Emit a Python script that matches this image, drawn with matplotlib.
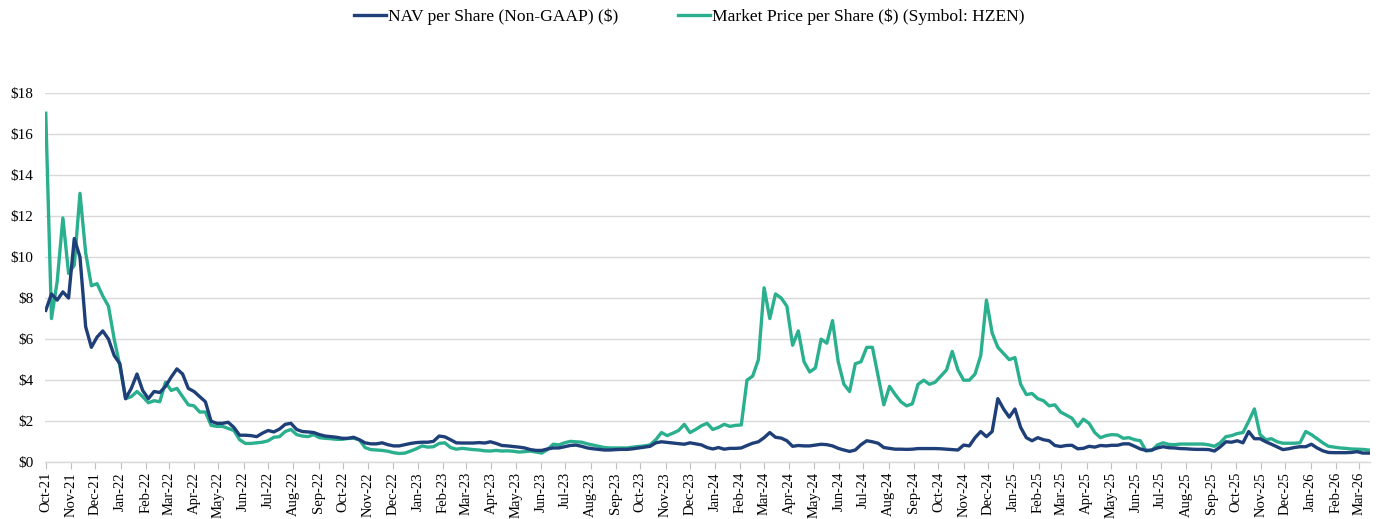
import matplotlib
matplotlib.use("Agg")
import matplotlib.pyplot as plt
import matplotlib.dates as mdates
import pandas as pd
import numpy as np

# Weekly observation dates (Oct 1, 2021 onward)
start_date = "2021-10-01"
n_points = 233

nav_per_share = [
    7.4, 8.2, 7.9, 8.3, 8.0, 10.9, 10.0, 6.6, 5.6, 6.1,
    6.4, 6.0, 5.2, 4.8, 3.1, 3.6, 4.3, 3.5, 3.1, 3.45,
    3.4, 3.7, 4.15, 4.55, 4.3, 3.6, 3.45, 3.2, 2.95, 2.0,
    1.9, 1.9, 1.95, 1.7, 1.32, 1.32, 1.3, 1.25, 1.42, 1.55,
    1.48, 1.62, 1.85, 1.9, 1.6, 1.5, 1.48, 1.45, 1.35, 1.28,
    1.25, 1.22, 1.17, 1.17, 1.22, 1.1, 0.95, 0.9, 0.9, 0.95,
    0.86, 0.8, 0.8, 0.86, 0.92, 0.96, 0.98, 0.98, 1.02, 1.28,
    1.24, 1.1, 0.95, 0.94, 0.94, 0.94, 0.96, 0.94, 1.0, 0.92,
    0.82, 0.8, 0.77, 0.74, 0.7, 0.62, 0.58, 0.58, 0.65, 0.7,
    0.7, 0.76, 0.82, 0.84, 0.78, 0.7, 0.66, 0.63, 0.6, 0.6,
    0.62, 0.63, 0.63, 0.66, 0.7, 0.74, 0.78, 0.95, 1.0, 0.97,
    0.94, 0.91, 0.88, 0.95, 0.9, 0.85, 0.72, 0.65, 0.72, 0.64,
    0.68, 0.68, 0.7, 0.82, 0.93, 1.0, 1.2, 1.45, 1.22, 1.18,
    1.05, 0.78, 0.82, 0.8, 0.8, 0.84, 0.88, 0.86, 0.8, 0.68,
    0.6, 0.53, 0.6, 0.86, 1.05, 1.0, 0.93, 0.72, 0.68, 0.64,
    0.64, 0.63, 0.64, 0.67, 0.67, 0.67, 0.67, 0.66, 0.64, 0.62,
    0.6, 0.84, 0.8, 1.2, 1.5, 1.25, 1.5, 3.1, 2.6, 2.2,
    2.6, 1.7, 1.2, 1.05, 1.2, 1.1, 1.05, 0.82, 0.77, 0.82,
    0.83, 0.66, 0.68, 0.78, 0.74, 0.82, 0.8, 0.83, 0.83, 0.9,
    0.9, 0.78, 0.65, 0.58, 0.6, 0.7, 0.76, 0.71, 0.7, 0.67,
    0.66, 0.64, 0.63, 0.63, 0.62, 0.55, 0.75, 1.0, 0.98, 1.05,
    0.95, 1.5, 1.15, 1.15, 1.0, 0.88, 0.75, 0.62, 0.66, 0.72,
    0.76, 0.76, 0.88, 0.7, 0.56, 0.48, 0.47, 0.47, 0.47, 0.48,
    0.52, 0.45, 0.45,
]

market_price = [
    17.0, 7.0, 8.8, 11.9, 9.2, 9.6, 13.1, 10.2, 8.6, 8.7,
    8.1, 7.6, 6.0, 4.7, 3.1, 3.2, 3.45, 3.2, 2.9, 3.0,
    2.95, 3.9, 3.5, 3.6, 3.2, 2.8, 2.75, 2.45, 2.45, 1.8,
    1.75, 1.75, 1.65, 1.55, 1.1, 0.92, 0.92, 0.95, 0.98, 1.05,
    1.22, 1.25, 1.5, 1.6, 1.35, 1.28, 1.25, 1.35, 1.2, 1.17,
    1.15, 1.12, 1.12, 1.16, 1.17, 1.1, 0.72, 0.62, 0.6, 0.58,
    0.54, 0.47, 0.43, 0.45, 0.55, 0.66, 0.8, 0.74, 0.76, 0.92,
    0.95, 0.72, 0.64, 0.68, 0.65, 0.62, 0.6, 0.56, 0.55, 0.58,
    0.55, 0.56, 0.54, 0.5, 0.52, 0.55, 0.5, 0.45, 0.62, 0.88,
    0.85, 0.95, 1.02, 1.0, 0.98, 0.9, 0.84, 0.78, 0.72, 0.7,
    0.7, 0.7, 0.7, 0.74, 0.77, 0.8, 0.85, 1.1, 1.45, 1.3,
    1.42, 1.55, 1.85, 1.45, 1.6, 1.78, 1.9, 1.6, 1.7, 1.85,
    1.75, 1.8, 1.82, 4.0, 4.2, 5.0, 8.5, 7.0, 8.2, 8.0,
    7.6, 5.7, 6.4, 4.9, 4.4, 4.6, 6.0, 5.8, 6.9, 4.9,
    3.8, 3.45, 4.8, 4.9, 5.6, 5.6, 4.2, 2.8, 3.7, 3.3,
    2.95, 2.75, 2.85, 3.8, 4.0, 3.8, 3.9, 4.2, 4.5, 5.4,
    4.5, 4.0, 4.0, 4.3, 5.2, 7.9, 6.3, 5.6, 5.3, 5.0,
    5.1, 3.8, 3.3, 3.35, 3.1, 3.0, 2.75, 2.8, 2.45, 2.3,
    2.15, 1.75, 2.1, 1.9, 1.45, 1.2, 1.3, 1.35, 1.33, 1.17,
    1.2, 1.1, 1.05, 0.55, 0.58, 0.85, 0.95, 0.87, 0.86, 0.89,
    0.89, 0.89, 0.89, 0.89, 0.85, 0.78, 0.95, 1.25, 1.3, 1.4,
    1.45, 2.0, 2.6, 1.35, 1.1, 1.15, 1.0, 0.93, 0.93, 0.93,
    0.95, 1.5, 1.35, 1.15, 0.95, 0.78, 0.74, 0.7, 0.68, 0.65,
    0.64, 0.63, 0.6,
]

series_labels = ["NAV per Share (Non-GAAP) ($)", "Market Price per Share ($) (Symbol: HZEN)"]
y_ticks = [0, 2, 4, 6, 8, 10, 12, 14, 16, 18]

dates = pd.date_range(start_date, periods=n_points, freq="7D")

NAV_COLOR = "#1F3F78"
MKT_COLOR = "#2AB08E"

plt.rcParams["font.family"] = ["Liberation Serif", "DejaVu Serif"]

fig = plt.figure(figsize=(13.79, 5.19), dpi=100)
ax = fig.add_axes([0.0326, 0.1092, 0.9609, 0.7122])

l1, = ax.plot(dates, nav_per_share, color=NAV_COLOR, lw=2.4, label=series_labels[0], zorder=3)
l2, = ax.plot(dates, market_price, color=MKT_COLOR, lw=2.4, label=series_labels[1], zorder=2)

ax.set_ylim(0, 18)
ax.set_yticks(y_ticks)
ax.set_yticklabels([f"${v}" for v in y_ticks], fontsize=11)
ax.tick_params(axis="y", length=0, pad=8.5)

x0 = pd.Timestamp(start_date) - pd.Timedelta(days=1)
x1 = pd.Timestamp(start_date) + pd.Timedelta(days=1626)
ax.set_xlim(x0, x1)
ax.xaxis.set_major_locator(mdates.MonthLocator())
ax.xaxis.set_major_formatter(mdates.DateFormatter("%b-%y"))
ax.tick_params(axis="x", rotation=90, labelsize=10.5, length=5, color="#BFBFBF", pad=2)

ax.grid(axis="y", color="#D9D9D9", lw=1.0)
ax.set_axisbelow(True)
for s in ["top", "right", "left"]:
    ax.spines[s].set_visible(False)
ax.spines["bottom"].set_color("#D9D9D9")
ax.spines["bottom"].set_linewidth(1.0)

fig.legend(handles=[l1, l2], loc="center", bbox_to_anchor=(0.5, 0.968), ncol=2,
           frameon=False, fontsize=12.6, handlelength=1.8, handletextpad=0.15,
           columnspacing=3.4)

fig.savefig("out.png", dpi=100)
